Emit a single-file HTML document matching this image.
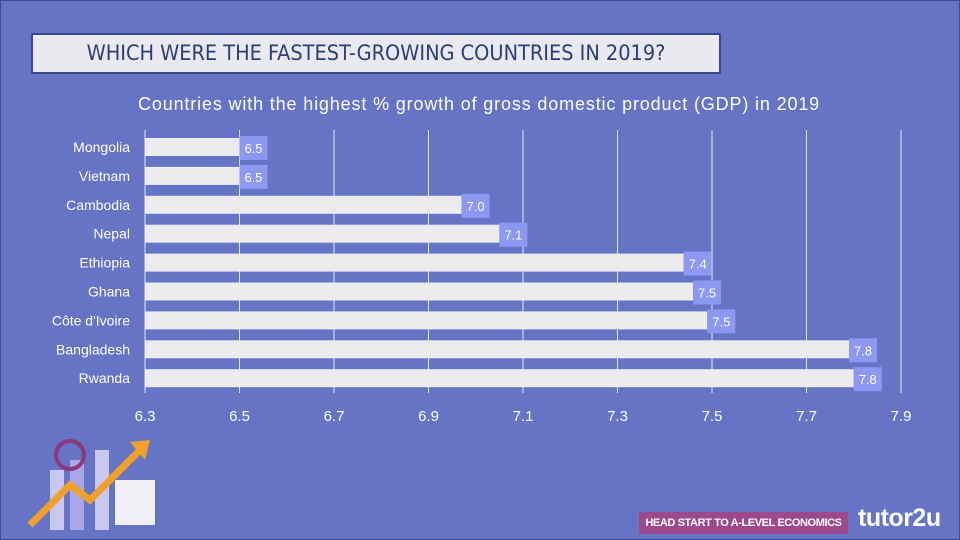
<!DOCTYPE html>
<html><head><meta charset="utf-8"><style>
body{margin:0;width:960px;height:540px;overflow:hidden;background:#6574c4;font-family:"Liberation Sans",sans-serif}
#frame{position:absolute;left:0;top:0;width:958px;height:538px;border:1px solid #3d4c96}
#title{position:absolute;left:31px;top:33px;width:686px;height:37px;background:#e9e9ef;border:2px solid #3c4a88;color:#2e3d78;font-size:21.5px;line-height:38px;text-align:center;font-family:"DejaVu Sans Condensed","Liberation Sans Narrow",sans-serif}
#sub{position:absolute;left:138px;width:720px;top:94px;white-space:nowrap;color:#fff;font-size:18px;letter-spacing:0.85px}
#banner{position:absolute;left:639px;top:512px;width:209px;height:22px;background:#9c4a8c;color:#fff;font-size:11px;line-height:22px;text-align:center;letter-spacing:-0.4px;font-weight:bold}
#logo{position:absolute;left:858px;top:504px;color:#fff;font-size:25px;font-weight:bold;letter-spacing:-0.5px}
</style></head><body>
<div id="frame"></div>
<div id="title">WHICH WERE THE FASTEST-GROWING COUNTRIES IN 2019?</div>
<div id="sub">Countries with the highest % growth of gross domestic product (GDP) in 2019</div>
<svg id="chart" width="960" height="540" style="position:absolute;left:0;top:0"></svg>
<svg width="200" height="110" style="position:absolute;left:10px;top:430px">
<rect x="40" y="40" width="14" height="60" fill="#c9c9f0"/><rect x="60" y="30" width="14" height="70" fill="#a8a8e8"/><rect x="85" y="20" width="14" height="80" fill="#c9c9f0"/>
<circle cx="60" cy="25" r="14" fill="none" stroke="#8a3a7a" stroke-width="4"/>
<polyline points="20,95 60,55 80,70 130,20" fill="none" stroke="#f2a02a" stroke-width="7"/>
<polygon points="120,12 140,10 135,30" fill="#f2a02a"/>
<rect x="105" y="50" width="40" height="45" fill="#f0f0f6"/>
</svg>
<div id="banner">HEAD START TO A-LEVEL ECONOMICS</div>
<div id="logo">tutor2u</div>
<script>
const categories=["Mongolia","Vietnam","Cambodia","Nepal","Ethiopia","Ghana","Côte d'Ivoire","Bangladesh","Rwanda"];
const values=[6.5,6.5,6.97,7.05,7.44,7.46,7.49,7.79,7.8];
const labels=["6.5","6.5","7.0","7.1","7.4","7.5","7.5","7.8","7.8"];
const ticks=[6.3,6.5,6.7,6.9,7.1,7.3,7.5,7.7,7.9];
const tickLabels=["6.3","6.5","6.7","6.9","7.1","7.3","7.5","7.7","7.9"];
const NS="http://www.w3.org/2000/svg";
const svg=document.getElementById('chart');
const x=v=>145+(v-6.3)/0.2*94.5;
const y=i=>138+i*28.9;
function el(t,a){const e=document.createElementNS(NS,t);for(const k in a)e.setAttribute(k,a[k]);svg.appendChild(e);return e;}
ticks.forEach((t,i)=>{
 const l=el('line',{x1:x(t),x2:x(t),y1:130,y2:393,stroke:'#e8e8f4','stroke-width':1});
 
 
 const tx=el('text',{x:x(t),y:421,fill:'#fff','font-size':15,'text-anchor':'middle'});
 tx.textContent=tickLabels[i];
 
 
});
categories.forEach((c,i)=>{
 const b=el('rect',{x:x(6.3),y:y(i),width:x(values[i])-x(6.3),height:18,fill:'#ececee'});
 
 
 const bx=el('rect',{x:x(values[i]),y:y(i)-2,width:28,height:24,fill:'#8c98f2'});
 
 
 const v=el('text',{x:x(values[i])+14,y:y(i)+15,fill:'#fff','font-size':13,'text-anchor':'middle'});
 v.textContent=labels[i];
 
 
 const ct=el('text',{x:130,y:y(i)+14,fill:'#fff','font-size':14,'text-anchor':'end'});
 ct.textContent=c;
 
 
});
</script>
</body></html>
